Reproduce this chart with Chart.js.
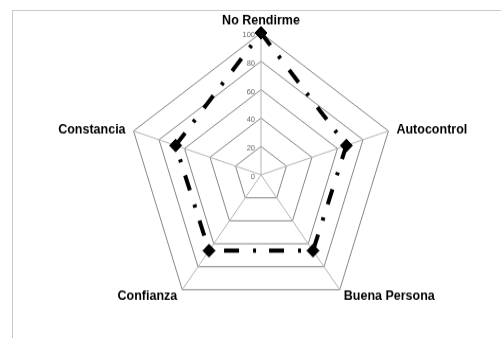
<!DOCTYPE html>
<html>
<head>
<meta charset="utf-8">
<script src="https://cdn.jsdelivr.net/npm/chart.js@4.4.0/dist/chart.umd.min.js"></script>
<style>
html, body { margin: 0; padding: 0; background: #fff; width: 501px; height: 338px; overflow: hidden; }
#frame { position: absolute; left: 12px; top: 10px; width: 489px; height: 328px; border-left: 1px solid #c6cacd; border-top: 1px solid #c6cacd; box-sizing: border-box; }
#chart { position: absolute; left: 0; top: 0; }
</style>
</head>
<body>
<div id="frame"></div>
<canvas id="chart" width="501" height="319" style="width:501px;height:338px"></canvas>
<script>
const categories = ["No Rendirme", "Autocontrol", "Buena Persona", "Confianza", "Constancia"];
const scores = [100, 67, 66, 66, 67];
const tickLabels = [0, 20, 40, 60, 80, 100];

// label placement around each outer vertex: dx, dy, align
const labelOffsets = [
	[0, -11, "center"],
	[8, -1, "left"],
	[4, 6, "left"],
	[-5, 6, "right"],
	[-8, -1, "right"],
];

const textPlugin = {
	id: "radarText",
	beforeDatasetsDraw(chart) {
		const scale = chart.scales.r;
		const ctx = chart.ctx;
		ctx.save();
		ctx.font = '7.5px "Liberation Sans", Arial, sans-serif';
		ctx.fillStyle = "#666";
		ctx.textAlign = "right";
		ctx.textBaseline = "middle";
		tickLabels.forEach((v) => {
			const y = scale.yCenter - scale.getDistanceFromCenterForValue(v);
			ctx.fillText(String(v), scale.xCenter - 6, y + 2);
		});
		ctx.restore();
	},
	afterDraw(chart) {
		const scale = chart.scales.r;
		const ctx = chart.ctx;
		ctx.save();
		ctx.font = 'bold 12.5px "Liberation Sans", Arial, sans-serif';
		ctx.fillStyle = "#000";
		ctx.textBaseline = "middle";
		categories.forEach((name, i) => {
			const p = scale.getPointPosition(i, scale.drawingArea);
			const [dx, dy, align] = labelOffsets[i];
			ctx.textAlign = align;
			ctx.fillText(name, p.x + dx, p.y + dy);
		});
		ctx.restore();
	},
};

new Chart(document.getElementById("chart"), {
	type: "radar",
	data: {
		labels: categories,
		datasets: [
			{
				data: scores,
				borderColor: "#000",
				borderWidth: 4,
				borderDash: [15, 13, 3, 14],
				fill: false,
				pointStyle: "rectRot",
				pointRadius: 6,
				pointBackgroundColor: "#000",
				pointBorderColor: "#000",
				pointBorderWidth: 1,
			},
		],
	},
	options: {
		responsive: false,
		devicePixelRatio: 1,
		animation: false,
		layout: { padding: { left: 127, right: 106, top: 31, bottom: 20 } },
		plugins: { legend: { display: false }, tooltip: { enabled: false } },
		scales: {
			r: {
				min: 0,
				max: 100,
				ticks: { stepSize: 20, display: false },
				pointLabels: { display: false },
				grid: { color: "#8a8480", lineWidth: 1 },
				angleLines: { color: "#b4b4b4", lineWidth: 1 },
			},
		},
	},
	plugins: [textPlugin],
});
</script>
</body>
</html>
